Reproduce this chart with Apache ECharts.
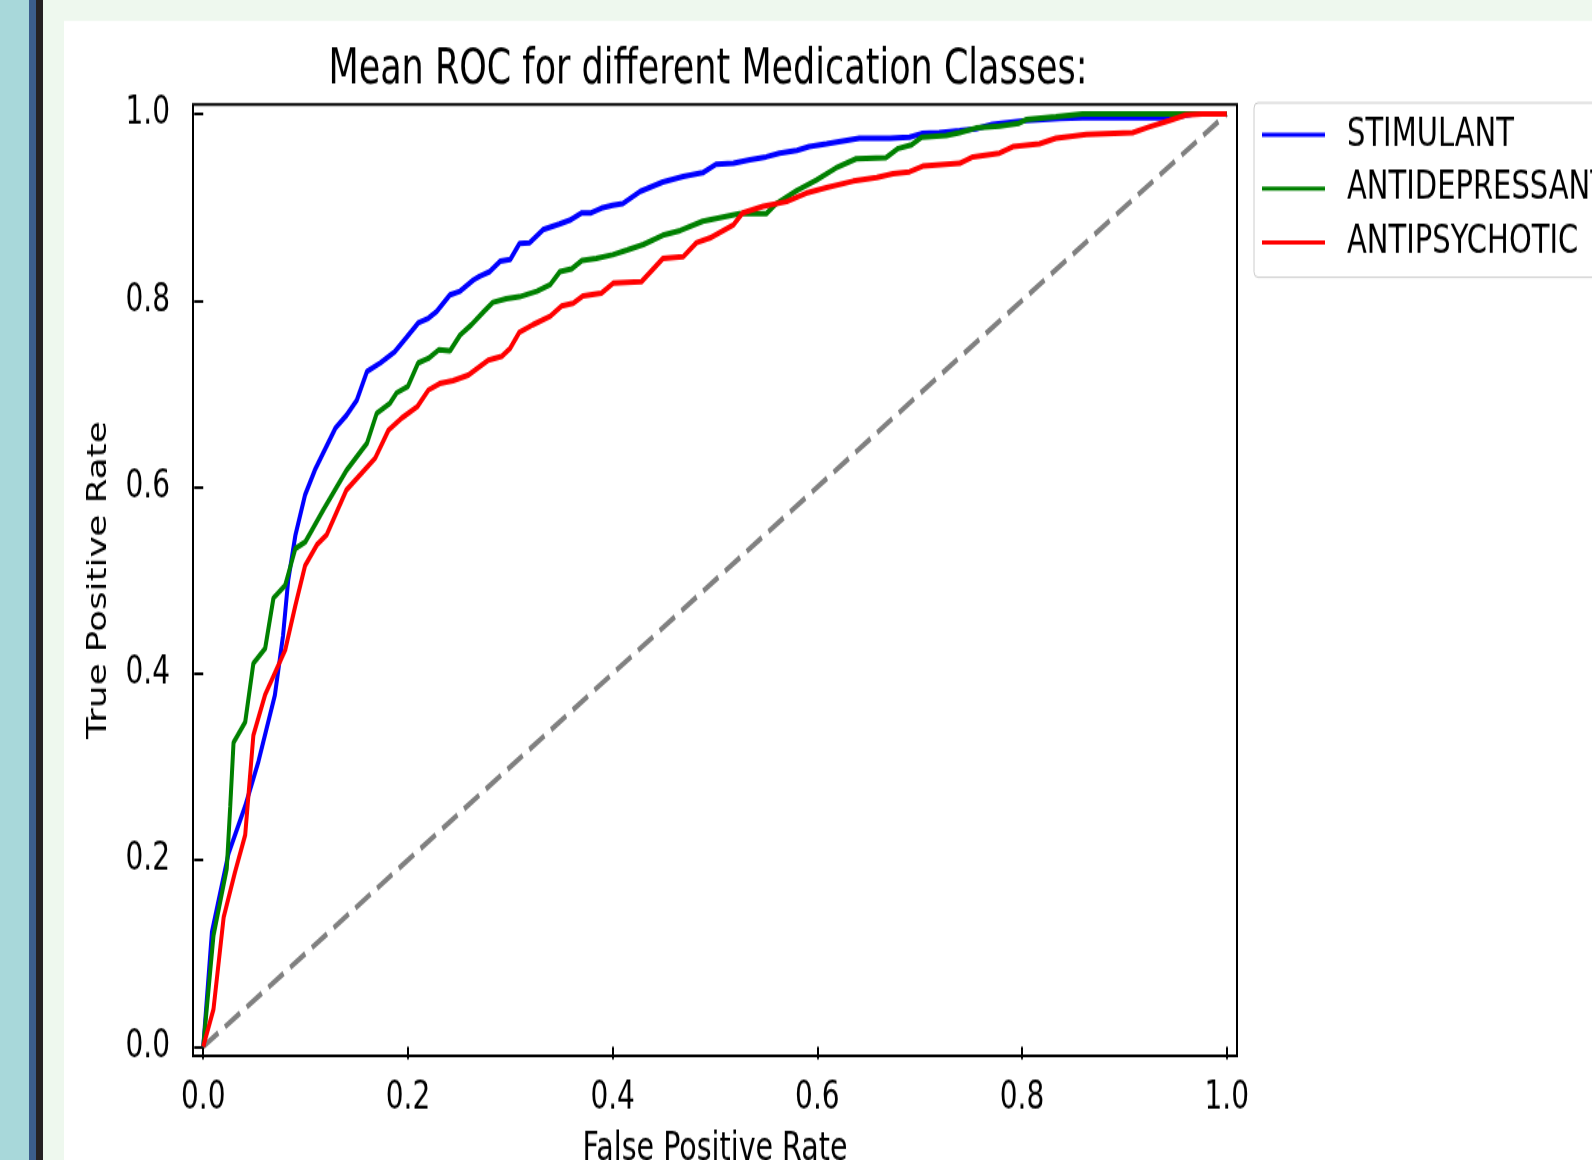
<!DOCTYPE html>
<html>
<head>
<meta charset="utf-8">
<title>Mean ROC for different Medication Classes</title>
<style>
  html { margin: 0; padding: 0; overflow: hidden; background: #eef8ee; }
  body { margin: 0; padding: 0; width: 1592px; height: 1160px; background: #eef8ee; }
  /* the source screenshot is stretched vertically, so the chart is drawn flatter and scaled up */
  #chart { width: 1592px; height: 835px; transform: scaleY(1.38922); transform-origin: 0 0; }
</style>
</head>
<body>
<div id="chart"></div>
<script src="https://cdn.jsdelivr.net/npm/echarts@6.0.0/dist/echarts.min.js"></script>
<script>
    // data: [false positive rate, true positive rate]
    var seriesNames = ['STIMULANT', 'ANTIDEPRESSANT', 'ANTIPSYCHOTIC'];
    var tickValues = [0, 0.2, 0.4, 0.6, 0.8, 1.0];

    var stimulant = [
        [0, 0], [0.0085, 0.123], [0.0247, 0.207], [0.041, 0.258], [0.054, 0.306], [0.070, 0.377],
        [0.078, 0.441], [0.083, 0.50], [0.090, 0.548], [0.0996, 0.592], [0.109, 0.618], [0.129, 0.663],
        [0.140, 0.677], [0.150, 0.693], [0.160, 0.724], [0.173, 0.733], [0.187, 0.745], [0.199, 0.761],
        [0.210, 0.776], [0.220, 0.781], [0.228, 0.788], [0.241, 0.806], [0.251, 0.810], [0.264, 0.822],
        [0.270, 0.826], [0.280, 0.831], [0.290, 0.842], [0.300, 0.844], [0.309, 0.861], [0.319, 0.862],
        [0.332, 0.876], [0.348, 0.882], [0.358, 0.886], [0.370, 0.894], [0.379, 0.894], [0.389, 0.899],
        [0.400, 0.902], [0.410, 0.904], [0.427, 0.917], [0.449, 0.927], [0.469, 0.933], [0.488, 0.937],
        [0.501, 0.946], [0.518, 0.947], [0.534, 0.951], [0.550, 0.954], [0.563, 0.958], [0.580, 0.961],
        [0.592, 0.965], [0.609, 0.968], [0.625, 0.971], [0.641, 0.974], [0.671, 0.974], [0.690, 0.975],
        [0.702, 0.979], [0.719, 0.980], [0.739, 0.982], [0.755, 0.984], [0.771, 0.989], [0.804, 0.993],
        [0.837, 0.995], [0.859, 0.996], [0.947, 0.996], [0.966, 1.0], [1.0, 1.0]
    ];

    var antidepressant = [
        [0, 0], [0.010, 0.119], [0.023, 0.191], [0.0264, 0.258], [0.0296, 0.326], [0.041, 0.348],
        [0.049, 0.411], [0.0605, 0.427], [0.0686, 0.481], [0.080, 0.4945], [0.090, 0.534], [0.0996, 0.541],
        [0.1175, 0.576], [0.140, 0.618], [0.160, 0.647], [0.1695, 0.679], [0.1825, 0.690], [0.189, 0.701],
        [0.200, 0.708], [0.210, 0.733], [0.220, 0.738], [0.230, 0.747], [0.241, 0.746], [0.251, 0.763],
        [0.262, 0.774], [0.274, 0.788], [0.283, 0.798], [0.296, 0.802], [0.309, 0.804], [0.326, 0.810],
        [0.339, 0.817], [0.3485, 0.831], [0.360, 0.834], [0.370, 0.843], [0.384, 0.845], [0.400, 0.849],
        [0.414, 0.854], [0.430, 0.860], [0.449, 0.870], [0.466, 0.875], [0.488, 0.885], [0.524, 0.893],
        [0.550, 0.893], [0.560, 0.904], [0.580, 0.918], [0.599, 0.929], [0.618, 0.942], [0.638, 0.952],
        [0.667, 0.953], [0.679, 0.963], [0.692, 0.967], [0.702, 0.975], [0.726, 0.977], [0.739, 0.980],
        [0.755, 0.985], [0.778, 0.987], [0.797, 0.990], [0.804, 0.994], [0.833, 0.997], [0.859, 1.0],
        [1.0, 1.0]
    ];

    var antipsychotic = [
        [0, 0], [0.010, 0.040], [0.020, 0.139], [0.031, 0.187], [0.041, 0.227], [0.049, 0.334],
        [0.0605, 0.3775], [0.080, 0.425], [0.090, 0.473], [0.0996, 0.516], [0.111, 0.538], [0.1207, 0.549],
        [0.140, 0.597], [0.168, 0.631], [0.181, 0.661], [0.194, 0.674], [0.209, 0.686], [0.220, 0.704],
        [0.231, 0.711], [0.244, 0.714], [0.259, 0.720], [0.2785, 0.736], [0.2915, 0.740], [0.300, 0.749],
        [0.309, 0.766], [0.322, 0.774], [0.339, 0.783], [0.350, 0.794], [0.3615, 0.797], [0.371, 0.805],
        [0.389, 0.808], [0.4005, 0.8185], [0.428, 0.820], [0.449, 0.845], [0.469, 0.847], [0.482, 0.862],
        [0.495, 0.867], [0.518, 0.881], [0.527, 0.894], [0.547, 0.901], [0.570, 0.906], [0.589, 0.915],
        [0.609, 0.921], [0.635, 0.928], [0.658, 0.932], [0.674, 0.936], [0.690, 0.938], [0.703, 0.944],
        [0.739, 0.947], [0.752, 0.954], [0.778, 0.958], [0.791, 0.965], [0.817, 0.968], [0.833, 0.974],
        [0.863, 0.978], [0.908, 0.980], [0.924, 0.986], [0.944, 0.993], [0.960, 0.999], [0.976, 1.0],
        [1.0, 1.0]
    ];

    var chanceLine = [[0, 0], [1, 1]];

    var font = 'DejaVu Sans';
    var chart = echarts.init(document.getElementById('chart'));

    function rocSeries(name, color, data) {
        return {
            name: name,
            type: 'line',
            data: data,
            color: color,
            symbol: 'none',
            lineStyle: { color: color, width: 4 }
        };
    }

    var option = {
        animation: false,
        backgroundColor: '#eef8ee',
        graphic: [
            // page decoration round the figure
            { type: 'rect', z: -10, silent: true, shape: { x: 0, y: 0, width: 29, height: 835 }, style: { fill: '#a8d8da' } },
            { type: 'rect', z: -10, silent: true, shape: { x: 29, y: 0, width: 7, height: 835 }, style: { fill: '#3b5d8c' } },
            { type: 'rect', z: -10, silent: true, shape: { x: 36, y: 0, width: 7, height: 835 }, style: { fill: '#252123' } },
            { type: 'rect', z: -10, silent: true, shape: { x: 64, y: 15.1, width: 1528, height: 830 }, style: { fill: '#ffffff' } }
        ],
        title: {
            text: 'Mean ROC for different Medication Classes:',
            left: 708,
            top: 33,
            padding: 0,
            textAlign: 'center',
            textStyle: { fontSize: 35, fontWeight: 'normal', fontFamily: font, color: '#000' }
        },
        legend: {
            data: seriesNames,
            orient: 'vertical',
            left: 1254,
            top: 74,
            icon: 'rect',
            itemWidth: 63,
            itemHeight: 3,
            itemGap: 9.8,
            padding: [8.5, 40, 10.5, 8],
            backgroundColor: '#ffffff',
            borderColor: '#cccccc',
            borderWidth: 1,
            borderRadius: 4,
            selectedMode: false,
            textStyle: { fontSize: 29, lineHeight: 29, fontFamily: font, color: '#000', padding: [0, 0, 0, 17] }
        },
        grid: {
            left: 193,
            top: 75.3,
            width: 1044,
            height: 684.8,
            outerBoundsMode: 'none',
            show: true,
            borderColor: '#000',
            borderWidth: 2,
            backgroundColor: '#fff'
        },
        xAxis: {
            type: 'value',
            min: -0.01,
            max: 1.01,
            name: 'False Positive Rate',
            nameLocation: 'middle',
            nameGap: 52.5,
            nameTextStyle: { fontSize: 28.5, fontFamily: font, color: '#000' },
            axisLine: { show: false },
            axisTick: { show: true, inside: false, length: 9, lineStyle: { color: '#000', width: 2 }, customValues: tickValues },
            axisLabel: {
                customValues: tickValues, margin: 16.5, fontSize: 28, fontFamily: font, color: '#000',
                formatter: function (v) { return v.toFixed(1); }
            },
            splitLine: { show: false }
        },
        yAxis: {
            type: 'value',
            min: -0.01,
            max: 1.01,
            name: 'True Positive Rate',
            nameLocation: 'middle',
            nameGap: 81,
            nameTextStyle: { fontSize: 25.7, fontFamily: font, color: '#000' },
            axisLine: { show: false },
            axisTick: { show: true, inside: false, length: 9, lineStyle: { color: '#000', width: 2 }, customValues: tickValues },
            axisLabel: {
                customValues: tickValues, margin: 23, fontSize: 28, fontFamily: font, color: '#000',
                formatter: function (v) { return v.toFixed(1); }
            },
            splitLine: { show: false }
        },
        series: [
            {
                name: 'chance',
                type: 'line',
                data: chanceLine,
                symbol: 'none',
                color: '#808080',
                lineStyle: { color: '#808080', width: 4, type: [18, 8] }
            },
            rocSeries(seriesNames[0], '#0000ff', stimulant),
            rocSeries(seriesNames[1], '#008000', antidepressant),
            rocSeries(seriesNames[2], '#ff0000', antipsychotic)
        ]
    };

    chart.setOption(option);
</script>
</body>
</html>
